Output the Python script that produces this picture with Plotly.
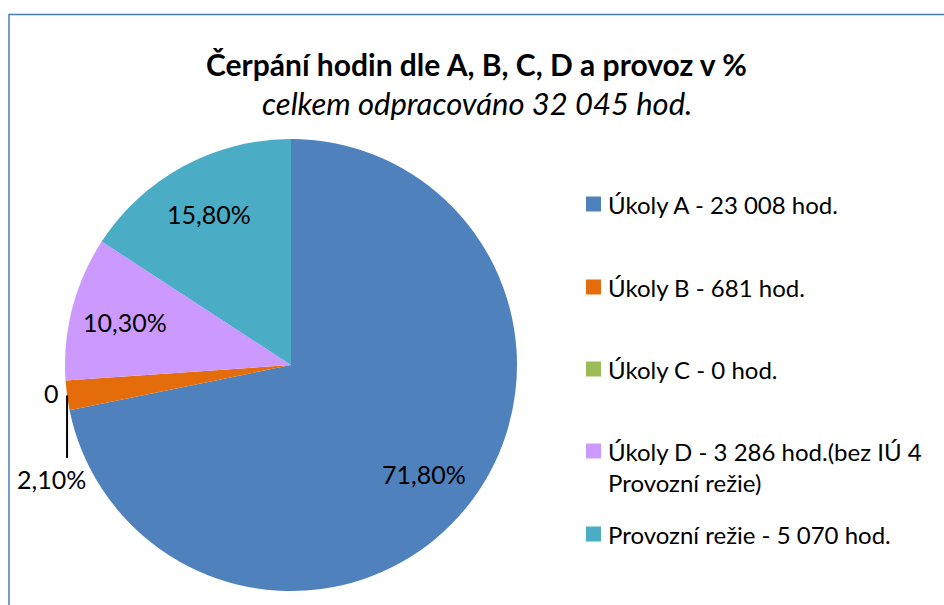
import math
import plotly.graph_objects as go

# ---- data ----
categories = ["Úkoly A", "Úkoly B", "Úkoly C", "Úkoly D", "Provozní režie"]
hours = [23008, 681, 0, 3286, 5070]
percent = [71.8, 2.1, 0.0, 10.3, 15.8]
legend_texts = [
    "Úkoly A - 23 008 hod.",
    "Úkoly B - 681 hod.",
    "Úkoly C - 0 hod.",
    "Úkoly D - 3 286 hod.(bez IÚ 4<br>Provozní režie)",
    "Provozní režie - 5 070 hod.",
]
colors = ["#4F81BD", "#E46C0A", "#9BBB59", "#CC99FF", "#4BACC6"]
title_text = "Čerpání hodin dle A, B, C, D a provoz v %"
subtitle_text = "celkem odpracováno 32 045 hod."

# ---- layout geometry (pixels) ----
W, H = 944, 605
cx, cy, R = 291, 365, 226
FONT = "Lato"


def px(x):
    return x / W


def py(y):
    return 1 - y / H


def fmt_pct(v):
    return f"{v:.2f}".replace(".", ",") + "%"


def label(x, y, text, size, xanchor="center"):
    return dict(x=px(x), y=py(y), xref="paper", yref="paper", text=text,
                showarrow=False, xanchor=xanchor, yanchor="middle",
                font=dict(family=FONT, size=size, color="#000000"))


fig = go.Figure()
fig.add_trace(go.Pie(
    labels=categories,
    values=percent,
    sort=False,
    direction="clockwise",
    rotation=0,
    marker=dict(colors=colors, line=dict(width=0)),
    textinfo="none",
    hoverinfo="label+value",
    showlegend=False,
    domain=dict(x=[px(cx - R), px(cx + R)], y=[py(cy + R), py(cy - R)]),
))

annotations = []
shapes = []

# data labels computed from slice angles
total = sum(percent)
cum = 0.0
mids = []
for v in percent:
    mid = (cum + v / 2) / total * 2 * math.pi
    mids.append(mid)
    cum += v

for i, v in enumerate(percent):
    a = mids[i]
    if v >= 5:
        rr = 0.76 * R
        x = cx + rr * math.sin(a)
        y = cy - rr * math.cos(a)
        annotations.append(label(x, y, fmt_pct(v), 25))

# small slices: B with leader line, C label "0"
aB = mids[1]
bx = cx + R * math.sin(aB)
by = cy - R * math.cos(aB)
shapes.append(dict(type="line", xref="paper", yref="paper",
                   x0=px(bx), y0=py(by), x1=px(bx), y1=py(458),
                   line=dict(color="#000000", width=2)))
annotations.append(label(51, 479, fmt_pct(percent[1]), 25))
annotations.append(label(51, 393, f"{percent[2]:.0f}", 25))

# legend (manual)
legend_y = [204, 287, 369, 451, 534]
for t, c, ly in zip(legend_texts, colors, legend_y):
    shapes.append(dict(type="rect", xref="paper", yref="paper",
                       x0=px(586), x1=px(601), y0=py(ly + 7.5), y1=py(ly - 7.5),
                       fillcolor=c, line=dict(width=0)))
    lines = t.split("<br>")
    for k, ln in enumerate(lines):
        annotations.append(label(606, ly + 31 * k, ln, 24, xanchor="left"))

# title & subtitle
annotations.append(label(476, 64, f"<b>{title_text}</b>", 30))
annotations.append(label(477, 103, f"<i>{subtitle_text}</i>", 31))

# chart border (cropped at right/bottom)
shapes.append(dict(type="rect", xref="paper", yref="paper",
                   x0=px(9), x1=px(960), y0=py(620), y1=py(14.5),
                   line=dict(color="#4A7EBB", width=1.5), fillcolor="rgba(0,0,0,0)"))

fig.update_layout(
    width=W, height=H,
    margin=dict(l=0, r=0, t=0, b=0),
    paper_bgcolor="white", plot_bgcolor="white",
    showlegend=False,
    annotations=annotations,
    shapes=shapes,
)

fig.write_html("out.html", config={"displayModeBar": False},
               post_script="document.body.style.margin='0';")
